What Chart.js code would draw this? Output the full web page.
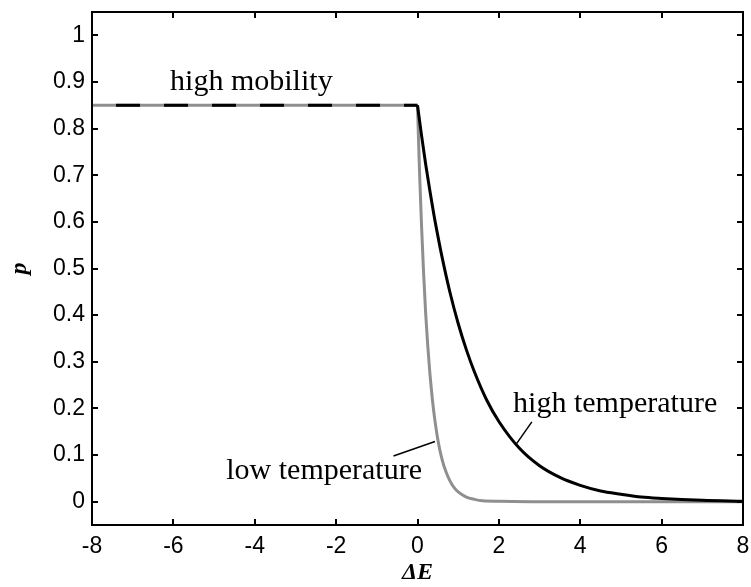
<!DOCTYPE html>
<html>
<head>
<meta charset="utf-8">
<script src="https://cdn.jsdelivr.net/npm/chart.js@4/dist/chart.umd.min.js"></script>
<style>
  html, body { margin: 0; padding: 0; background: #fff; }
  canvas { display: block; }
</style>
</head>
<body>
<canvas id="chart" width="751" height="587"></canvas>
<script>
// plateau (high mobility) for dE < 0
const flatE = [-8, 0];
const flatP = [0.85, 0.85];

// high temperature branch
const highE = [0, 0.1, 0.2, 0.3, 0.4, 0.5, 0.6, 0.8, 1.0, 1.2, 1.4, 1.7, 2.0, 2.5, 3, 3.5, 4, 4.5, 5, 5.5, 6, 7, 8];
const highP = [0.85, 0.785, 0.724, 0.669, 0.617, 0.57, 0.526, 0.448, 0.382, 0.326, 0.278, 0.218, 0.172, 0.115, 0.077, 0.052, 0.035, 0.023, 0.016, 0.01, 0.007, 0.003, 0.001];

// low temperature branch
const lowE = [0, 0.05, 0.1, 0.15, 0.2, 0.25, 0.3, 0.35, 0.4, 0.5, 0.6, 0.7, 0.8, 0.9, 1.0, 1.2, 1.4, 1.6, 2, 3, 4, 5, 6, 7, 8];
const lowP = [0.85, 0.707, 0.59, 0.49, 0.405, 0.337, 0.28, 0.233, 0.193, 0.133, 0.092, 0.064, 0.044, 0.03, 0.021, 0.01, 0.005, 0.002, 0.001, 0, 0, 0, 0, 0, 0];

// tick labels
const xTicks = [-8, -6, -4, -2, 0, 2, 4, 6, 8];
const yTicks = [0, 0.1, 0.2, 0.3, 0.4, 0.5, 0.6, 0.7, 0.8, 0.9, 1];
const yLabels = ['0', '0.1', '0.2', '0.3', '0.4', '0.5', '0.6', '0.7', '0.8', '0.9', '1'];

const GREY = '#8f8f8f';
const toPts = (xs, ys) => xs.map((x, i) => ({ x: x, y: ys[i] }));

// box with inward ticks on all four sides
const boxPlugin = {
    id: 'box',
    afterDatasetsDraw(chart) {
        const { ctx, chartArea: a, scales } = chart;
        ctx.save();
        ctx.strokeStyle = '#000';
        ctx.lineWidth = 2;
        ctx.beginPath();
        xTicks.forEach(v => {
            const px = Math.round(scales.x.getPixelForValue(v));
            ctx.moveTo(px, a.bottom); ctx.lineTo(px, a.bottom - 6);
            ctx.moveTo(px, a.top); ctx.lineTo(px, a.top + 6);
        });
        yTicks.forEach(v => {
            const py = Math.round(scales.y.getPixelForValue(v));
            ctx.moveTo(a.left, py); ctx.lineTo(a.left + 6, py);
            ctx.moveTo(a.right, py); ctx.lineTo(a.right - 6, py);
        });
        ctx.stroke();
        ctx.strokeRect(a.left, a.top, a.right - a.left, a.bottom - a.top);
        ctx.restore();
    }
};

// curve labels and their pointer lines
const notes = [
    { text: 'high mobility', x: -6.08, y: 0.882, align: 'left' },
    { text: 'high temperature', x: 2.35, y: 0.192, align: 'left' },
    { text: 'low temperature', x: 0.11, y: 0.049, align: 'right' }
];
const pointers = [
    { x1: -0.59, y1: 0.098, x2: 0.43, y2: 0.129 },
    { x1: 2.81, y1: 0.171, x2: 2.44, y2: 0.125 }
];

const notePlugin = {
    id: 'notes',
    afterDatasetsDraw(chart) {
        const { ctx, scales } = chart;
        ctx.save();
        ctx.fillStyle = '#000';
        ctx.font = '30px "Liberation Serif", "Times New Roman", serif';
        ctx.textBaseline = 'alphabetic';
        notes.forEach(n => {
            ctx.textAlign = n.align;
            ctx.fillText(n.text, scales.x.getPixelForValue(n.x), scales.y.getPixelForValue(n.y));
        });
        ctx.strokeStyle = '#000';
        ctx.lineWidth = 1.5;
        pointers.forEach(p => {
            ctx.beginPath();
            ctx.moveTo(scales.x.getPixelForValue(p.x1), scales.y.getPixelForValue(p.y1));
            ctx.lineTo(scales.x.getPixelForValue(p.x2), scales.y.getPixelForValue(p.y2));
            ctx.stroke();
        });
        ctx.restore();
    }
};

const tickFont = { family: '"Liberation Sans", Arial, sans-serif', size: 23 };
const titleFont = { family: '"Liberation Serif", "Times New Roman", serif', size: 24, style: 'italic', weight: 'bold' };

// keep the plot box where the reference has it: no extra label overhang
const noOverhang = s => {
    s.paddingTop = 0; s.paddingBottom = 0;
    s.paddingLeft = 0; s.paddingRight = 0;
};

new Chart(document.getElementById('chart'), {
    type: 'scatter',
    data: {
        datasets: [
            {
                data: toPts(flatE, flatP),
                showLine: true, borderColor: '#000', borderWidth: 3,
                borderDash: [24, 24], borderDashOffset: 24,
                pointRadius: 0
            },
            {
                data: toPts(highE, highP),
                showLine: true, borderColor: '#000', borderWidth: 3,
                cubicInterpolationMode: 'monotone', pointRadius: 0
            },
            {
                data: toPts(flatE, flatP),
                showLine: true, borderColor: GREY, borderWidth: 3,
                pointRadius: 0
            },
            {
                data: toPts(lowE, lowP),
                showLine: true, borderColor: GREY, borderWidth: 3,
                cubicInterpolationMode: 'monotone', pointRadius: 0
            }
        ]
    },
    options: {
        responsive: false,
        animation: false,
        devicePixelRatio: 1,
        layout: { padding: { top: 12, right: 8, left: 0, bottom: 0 } },
        plugins: { legend: { display: false }, tooltip: { enabled: false } },
        scales: {
            x: {
                type: 'linear', min: -8, max: 8,
                grid: { display: false, drawTicks: false },
                border: { display: false },
                afterBuildTicks: s => { s.ticks = xTicks.map(v => ({ value: v })); },
                afterFit: s => { s.height = 62; noOverhang(s); },
                ticks: { color: '#000', font: tickFont, padding: 8, maxRotation: 0,
                         callback: v => String(v) },
                title: { display: true, text: 'ΔE', color: '#000', font: titleFont,
                         padding: { top: 0, bottom: 0 } }
            },
            y: {
                type: 'linear', min: -0.05, max: 1.05,
                grid: { display: false, drawTicks: false },
                border: { display: false },
                afterBuildTicks: s => { s.ticks = yTicks.map(v => ({ value: v })); },
                afterFit: s => { s.width = 92; noOverhang(s); },
                ticks: { color: '#000', font: tickFont, padding: 7,
                         callback: (v, i) => yLabels[i] },
                title: { display: true, text: 'p', color: '#000', font: titleFont,
                         padding: { top: 5, bottom: 0 } }
            }
        }
    },
    plugins: [boxPlugin, notePlugin]
});
</script>
</body>
</html>
